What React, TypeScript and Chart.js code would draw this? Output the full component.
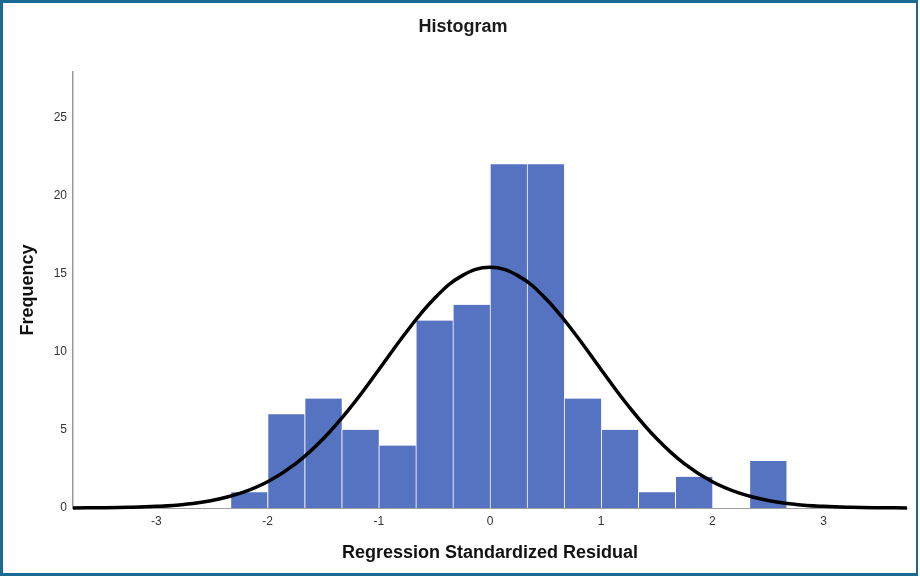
import React, { useEffect, useRef } from "react";
import { Chart, registerables } from "chart.js";

Chart.register(...registerables);

// Histogram bins (centers) and frequencies
const binCenters = [-2.1667, -1.8333, -1.5, -1.1667, -0.8333, -0.5, -0.1667, 0.1667, 0.5, 0.8333, 1.1667, 1.5, 1.8333, 2.1667, 2.5];
const frequencies = [1, 6, 7, 5, 4, 12, 13, 22, 22, 7, 5, 1, 2, 0, 3];

// Normal curve
const curveX = [-3.75, -3.5, -3.25, -3, -2.75, -2.5, -2.25, -2, -1.75, -1.5, -1.25, -1, -0.75, -0.5, -0.25, 0, 0.25, 0.5, 0.75, 1, 1.25, 1.5, 1.75, 2, 2.25, 2.5, 2.75, 3, 3.25, 3.5, 3.75];
const curveY = [0.006, 0.017, 0.044, 0.105, 0.23, 0.48, 0.93, 1.68, 2.82, 4.43, 6.48, 8.85, 11.28, 13.41, 14.87, 15.4, 14.87, 13.41, 11.28, 8.85, 6.48, 4.43, 2.82, 1.68, 0.93, 0.48, 0.23, 0.105, 0.044, 0.017, 0.006];

const xTickValues = [-3, -2, -1, 0, 1, 2, 3];
const yTickValues = [0, 5, 10, 15, 20, 25];

const titleText = "Histogram";
const xTitle = "Regression Standardized Residual";
const yTitle = "Frequency";

const FONT = "Liberation Sans, Arial, sans-serif";

const titlePlugin = {
  id: "centeredTitle",
  afterDraw(chart: any) {
    const c = chart.ctx;
    c.save();
    c.font = `bold 18px ${FONT}`;
    c.fillStyle = "#1a1a1a";
    c.textAlign = "center";
    c.textBaseline = "middle";
    c.fillText(titleText, 463, 27);
    c.restore();
  },
};

export default function App() {
  const ref = useRef<HTMLCanvasElement>(null);
  useEffect(() => {
    document.body.style.margin = "0";
    const ctx = ref.current!.getContext("2d")!;
    const chart = new Chart(ctx, {
      type: "bar",
      data: {
        datasets: [
          {
            type: "line",
            data: curveX.map((x, i) => ({ x, y: curveY[i] })),
            borderColor: "#000000",
            borderWidth: 3.5,
            pointRadius: 0,
            tension: 0.4,
            fill: false,
            clip: 6,
            order: 0,
          } as any,
          {
            type: "bar",
            data: binCenters.map((x, i) => ({ x, y: frequencies[i] })),
            backgroundColor: "#5573c1",
            borderColor: "#ffffff",
            borderWidth: { left: 1, right: 0, top: 0, bottom: 0 },
            borderSkipped: false,
            barPercentage: 1,
            categoryPercentage: 1,
            order: 1,
          } as any,
        ],
      },
      plugins: [titlePlugin],
      options: {
        animation: false,
        responsive: false,
        maintainAspectRatio: false,
        layout: { padding: { left: 0, right: 13, top: 72, bottom: 0 } },
        plugins: {
          legend: { display: false },
          tooltip: { enabled: false },
          title: { display: false },
        },
        scales: {
          x: {
            type: "linear",
            min: -3.75,
            max: 3.75,
            offset: false,
            grid: { display: false, drawTicks: false },
            border: { display: true, color: "#a0a0a0", width: 1 },
            afterBuildTicks: (s: any) => {
              s.ticks = xTickValues.map((v) => ({ value: v }));
            },
            afterFit: (s: any) => {
              s.height = 68;
            },
            ticks: {
              color: "#333333",
              padding: 6.5,
              maxRotation: 0,
              font: { family: FONT, size: 12 },
            },
            title: {
              display: true,
              text: xTitle,
              color: "#111111",
              font: { family: FONT, size: 18, weight: "bold" },
              padding: { top: 0, bottom: 12 },
            },
          },
          y: {
            min: 0,
            max: 27.9,
            grid: { display: false, drawTicks: false },
            border: { display: true, color: "#999999", width: 1.5 },
            afterBuildTicks: (s: any) => {
              s.ticks = yTickValues.map((v) => ({ value: v }));
            },
            afterFit: (s: any) => {
              s.width = 73;
            },
            ticks: {
              color: "#333333",
              padding: 6,
              font: { family: FONT, size: 12 },
            },
            title: {
              display: true,
              text: yTitle,
              color: "#111111",
              font: { family: FONT, size: 18, weight: "bold" },
              padding: { top: 17, bottom: 0 },
            },
          },
        },
      },
    });
    return () => chart.destroy();
  }, []);

  return (
    <div style={{ position: "absolute", left: 0, top: 0, width: 920, height: 576, background: "#ffffff" }}>
      <canvas ref={ref} width={920} height={576} style={{ position: "absolute", left: 0, top: 0, width: 920, height: 576 }} />
      <div
        style={{
          position: "absolute",
          left: 0,
          top: 0,
          width: 918,
          height: 576,
          boxSizing: "border-box",
          borderTop: "3px solid #1b6a96",
          borderLeft: "3px solid #1b6a96",
          borderBottom: "3px solid #1b6a96",
          borderRight: "2px solid #1b6a96",
          pointerEvents: "none",
        }}
      />
    </div>
  );
}
